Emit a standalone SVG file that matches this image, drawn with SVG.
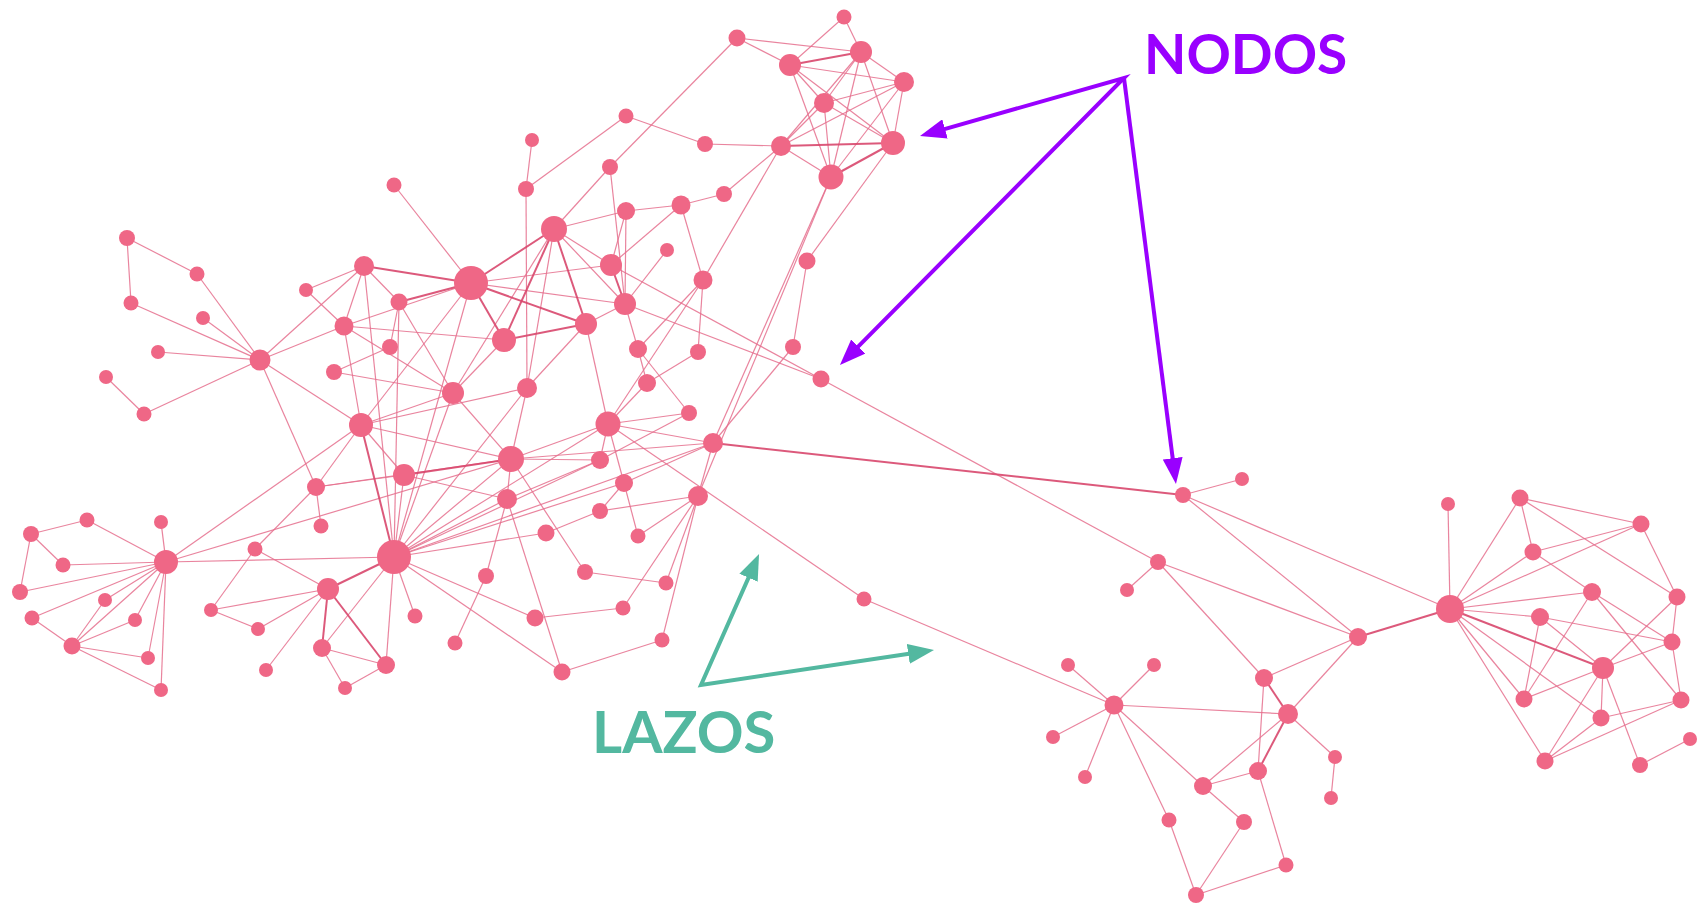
<svg xmlns="http://www.w3.org/2000/svg" width="1698" height="905" viewBox="0 0 1698 905">
<style>
.e{stroke:#e56f8d;stroke-width:1.2;stroke-opacity:0.85}
.et{stroke:#d8476d;stroke-width:2;stroke-opacity:0.9}
.nodes circle{fill:#ef6786}
.lbl{font-family:Lato,"Open Sans","Liberation Sans",sans-serif;font-weight:700}
.ap{fill:none;stroke:#9900ff;stroke-width:4;stroke-linejoin:miter}
.at{fill:none;stroke:#53b8a0;stroke-width:4;stroke-linejoin:miter}
</style>
<defs>
<marker id="mp" viewBox="0 0 26 20" refX="16" refY="10" markerWidth="26" markerHeight="20" markerUnits="userSpaceOnUse" orient="auto-start-reverse"><path d="M0,0 L26,10 L0,20 Z" fill="#9900ff"/></marker>
<marker id="mt" viewBox="0 0 26 20" refX="16" refY="10" markerWidth="26" markerHeight="20" markerUnits="userSpaceOnUse" orient="auto-start-reverse"><path d="M0,0 L26,10 L0,20 Z" fill="#53b8a0"/></marker>
</defs>
<rect width="1698" height="905" fill="#ffffff"/>
<g id="connectors">
<line class="e" x1="844" y1="17" x2="790" y2="65"/>
<line class="e" x1="844" y1="17" x2="861" y2="52"/>
<line class="e" x1="737" y1="38" x2="861" y2="52"/>
<line class="e" x1="737" y1="38" x2="790" y2="65"/>
<line class="e" x1="737" y1="38" x2="610" y2="167"/>
<line class="e" x1="861" y1="52" x2="904" y2="82"/>
<line class="e" x1="861" y1="52" x2="824" y2="103"/>
<line class="e" x1="861" y1="52" x2="781" y2="146"/>
<line class="e" x1="861" y1="52" x2="893" y2="143"/>
<line class="e" x1="861" y1="52" x2="831" y2="177"/>
<line class="e" x1="790" y1="65" x2="904" y2="82"/>
<line class="e" x1="790" y1="65" x2="824" y2="103"/>
<line class="e" x1="790" y1="65" x2="893" y2="143"/>
<line class="e" x1="790" y1="65" x2="831" y2="177"/>
<line class="e" x1="904" y1="82" x2="824" y2="103"/>
<line class="e" x1="904" y1="82" x2="781" y2="146"/>
<line class="e" x1="904" y1="82" x2="893" y2="143"/>
<line class="e" x1="904" y1="82" x2="831" y2="177"/>
<line class="e" x1="824" y1="103" x2="781" y2="146"/>
<line class="e" x1="824" y1="103" x2="893" y2="143"/>
<line class="e" x1="824" y1="103" x2="831" y2="177"/>
<line class="e" x1="705" y1="144" x2="781" y2="146"/>
<line class="e" x1="705" y1="144" x2="626" y2="116"/>
<line class="e" x1="781" y1="146" x2="831" y2="177"/>
<line class="e" x1="781" y1="146" x2="724" y2="194"/>
<line class="e" x1="781" y1="146" x2="703" y2="280"/>
<line class="e" x1="893" y1="143" x2="807" y2="261"/>
<line class="e" x1="831" y1="177" x2="713" y2="443"/>
<line class="e" x1="831" y1="177" x2="698" y2="496"/>
<line class="e" x1="807" y1="261" x2="793" y2="347"/>
<line class="e" x1="793" y1="347" x2="713" y2="443"/>
<line class="e" x1="626" y1="116" x2="526" y2="189"/>
<line class="e" x1="610" y1="167" x2="554" y2="229"/>
<line class="e" x1="610" y1="167" x2="625" y2="304"/>
<line class="e" x1="724" y1="194" x2="681" y2="205"/>
<line class="e" x1="626" y1="211" x2="681" y2="205"/>
<line class="e" x1="626" y1="211" x2="611" y2="265"/>
<line class="e" x1="626" y1="211" x2="625" y2="304"/>
<line class="e" x1="626" y1="211" x2="554" y2="229"/>
<line class="e" x1="681" y1="205" x2="703" y2="280"/>
<line class="e" x1="681" y1="205" x2="611" y2="265"/>
<line class="e" x1="667" y1="250" x2="625" y2="304"/>
<line class="e" x1="611" y1="265" x2="554" y2="229"/>
<line class="e" x1="611" y1="265" x2="471" y2="283"/>
<line class="e" x1="611" y1="265" x2="821" y2="379"/>
<line class="e" x1="703" y1="280" x2="698" y2="352"/>
<line class="e" x1="703" y1="280" x2="638" y2="349"/>
<line class="e" x1="703" y1="280" x2="608" y2="424"/>
<line class="e" x1="625" y1="304" x2="586" y2="324"/>
<line class="e" x1="625" y1="304" x2="638" y2="349"/>
<line class="e" x1="625" y1="304" x2="554" y2="229"/>
<line class="e" x1="625" y1="304" x2="821" y2="379"/>
<line class="e" x1="625" y1="304" x2="471" y2="283"/>
<line class="e" x1="586" y1="324" x2="608" y2="424"/>
<line class="e" x1="586" y1="324" x2="527" y2="388"/>
<line class="e" x1="638" y1="349" x2="647" y2="383"/>
<line class="e" x1="638" y1="349" x2="689" y2="413"/>
<line class="e" x1="698" y1="352" x2="647" y2="383"/>
<line class="e" x1="647" y1="383" x2="608" y2="424"/>
<line class="e" x1="689" y1="413" x2="608" y2="424"/>
<line class="e" x1="689" y1="413" x2="600" y2="460"/>
<line class="e" x1="821" y1="379" x2="1158" y2="562"/>
<line class="e" x1="532" y1="140" x2="526" y2="189"/>
<line class="e" x1="526" y1="189" x2="527" y2="388"/>
<line class="e" x1="394" y1="185" x2="471" y2="283"/>
<line class="e" x1="554" y1="229" x2="453" y2="393"/>
<line class="e" x1="554" y1="229" x2="527" y2="388"/>
<line class="e" x1="471" y1="283" x2="344" y2="326"/>
<line class="e" x1="471" y1="283" x2="361" y2="425"/>
<line class="e" x1="471" y1="283" x2="394" y2="557"/>
<line class="e" x1="127" y1="238" x2="197" y2="274"/>
<line class="e" x1="127" y1="238" x2="131" y2="303"/>
<line class="e" x1="197" y1="274" x2="260" y2="360"/>
<line class="e" x1="131" y1="303" x2="260" y2="360"/>
<line class="e" x1="203" y1="318" x2="260" y2="360"/>
<line class="e" x1="158" y1="352" x2="260" y2="360"/>
<line class="e" x1="106" y1="377" x2="144" y2="414"/>
<line class="e" x1="144" y1="414" x2="260" y2="360"/>
<line class="e" x1="260" y1="360" x2="364" y2="266"/>
<line class="e" x1="260" y1="360" x2="344" y2="326"/>
<line class="e" x1="260" y1="360" x2="361" y2="425"/>
<line class="e" x1="260" y1="360" x2="316" y2="487"/>
<line class="e" x1="364" y1="266" x2="306" y2="290"/>
<line class="e" x1="364" y1="266" x2="344" y2="326"/>
<line class="e" x1="364" y1="266" x2="399" y2="302"/>
<line class="e" x1="364" y1="266" x2="394" y2="557"/>
<line class="e" x1="306" y1="290" x2="344" y2="326"/>
<line class="e" x1="399" y1="302" x2="390" y2="347"/>
<line class="e" x1="399" y1="302" x2="453" y2="393"/>
<line class="e" x1="399" y1="302" x2="394" y2="557"/>
<line class="e" x1="344" y1="326" x2="453" y2="393"/>
<line class="e" x1="344" y1="326" x2="361" y2="425"/>
<line class="e" x1="344" y1="326" x2="504" y2="340"/>
<line class="e" x1="390" y1="347" x2="334" y2="372"/>
<line class="e" x1="334" y1="372" x2="453" y2="393"/>
<line class="e" x1="504" y1="340" x2="453" y2="393"/>
<line class="e" x1="453" y1="393" x2="511" y2="459"/>
<line class="e" x1="453" y1="393" x2="394" y2="557"/>
<line class="e" x1="527" y1="388" x2="511" y2="459"/>
<line class="e" x1="527" y1="388" x2="394" y2="557"/>
<line class="e" x1="361" y1="425" x2="511" y2="459"/>
<line class="e" x1="361" y1="425" x2="404" y2="475"/>
<line class="e" x1="361" y1="425" x2="316" y2="487"/>
<line class="e" x1="361" y1="425" x2="453" y2="393"/>
<line class="e" x1="361" y1="425" x2="527" y2="388"/>
<line class="e" x1="361" y1="425" x2="166" y2="562"/>
<line class="e" x1="511" y1="459" x2="507" y2="499"/>
<line class="e" x1="511" y1="459" x2="394" y2="557"/>
<line class="e" x1="511" y1="459" x2="608" y2="424"/>
<line class="e" x1="511" y1="459" x2="600" y2="460"/>
<line class="e" x1="511" y1="459" x2="316" y2="487"/>
<line class="e" x1="511" y1="459" x2="713" y2="443"/>
<line class="e" x1="404" y1="475" x2="316" y2="487"/>
<line class="e" x1="404" y1="475" x2="507" y2="499"/>
<line class="e" x1="404" y1="475" x2="394" y2="557"/>
<line class="e" x1="316" y1="487" x2="321" y2="526"/>
<line class="e" x1="316" y1="487" x2="255" y2="549"/>
<line class="e" x1="507" y1="499" x2="394" y2="557"/>
<line class="e" x1="507" y1="499" x2="486" y2="576"/>
<line class="e" x1="507" y1="499" x2="600" y2="460"/>
<line class="e" x1="507" y1="499" x2="562" y2="672"/>
<line class="e" x1="546" y1="533" x2="394" y2="557"/>
<line class="e" x1="546" y1="533" x2="600" y2="511"/>
<line class="e" x1="394" y1="557" x2="608" y2="424"/>
<line class="e" x1="394" y1="557" x2="600" y2="460"/>
<line class="e" x1="394" y1="557" x2="415" y2="616"/>
<line class="e" x1="394" y1="557" x2="535" y2="618"/>
<line class="e" x1="394" y1="557" x2="386" y2="665"/>
<line class="e" x1="394" y1="557" x2="562" y2="672"/>
<line class="e" x1="394" y1="557" x2="166" y2="562"/>
<line class="e" x1="394" y1="557" x2="322" y2="648"/>
<line class="e" x1="394" y1="557" x2="713" y2="443"/>
<line class="e" x1="394" y1="557" x2="624" y2="483"/>
<line class="e" x1="486" y1="576" x2="455" y2="643"/>
<line class="e" x1="328" y1="589" x2="255" y2="549"/>
<line class="e" x1="328" y1="589" x2="211" y2="610"/>
<line class="e" x1="328" y1="589" x2="258" y2="629"/>
<line class="e" x1="328" y1="589" x2="266" y2="670"/>
<line class="e" x1="322" y1="648" x2="386" y2="665"/>
<line class="e" x1="322" y1="648" x2="345" y2="688"/>
<line class="e" x1="386" y1="665" x2="345" y2="688"/>
<line class="e" x1="535" y1="618" x2="623" y2="608"/>
<line class="e" x1="562" y1="672" x2="662" y2="640"/>
<line class="e" x1="713" y1="443" x2="608" y2="424"/>
<line class="e" x1="713" y1="443" x2="698" y2="496"/>
<line class="e" x1="713" y1="443" x2="624" y2="483"/>
<line class="e" x1="624" y1="483" x2="608" y2="424"/>
<line class="e" x1="624" y1="483" x2="638" y2="536"/>
<line class="e" x1="624" y1="483" x2="600" y2="511"/>
<line class="e" x1="600" y1="460" x2="608" y2="424"/>
<line class="e" x1="698" y1="496" x2="600" y2="511"/>
<line class="e" x1="698" y1="496" x2="638" y2="536"/>
<line class="e" x1="698" y1="496" x2="666" y2="583"/>
<line class="e" x1="698" y1="496" x2="623" y2="608"/>
<line class="e" x1="698" y1="496" x2="662" y2="640"/>
<line class="e" x1="608" y1="424" x2="864" y2="599"/>
<line class="e" x1="585" y1="572" x2="666" y2="583"/>
<line class="e" x1="585" y1="572" x2="511" y2="459"/>
<line class="e" x1="166" y1="562" x2="87" y2="520"/>
<line class="e" x1="166" y1="562" x2="161" y2="522"/>
<line class="e" x1="166" y1="562" x2="63" y2="565"/>
<line class="e" x1="166" y1="562" x2="20" y2="592"/>
<line class="e" x1="166" y1="562" x2="32" y2="618"/>
<line class="e" x1="166" y1="562" x2="105" y2="600"/>
<line class="e" x1="166" y1="562" x2="135" y2="620"/>
<line class="e" x1="166" y1="562" x2="72" y2="646"/>
<line class="e" x1="166" y1="562" x2="148" y2="658"/>
<line class="e" x1="166" y1="562" x2="161" y2="690"/>
<line class="e" x1="166" y1="562" x2="511" y2="459"/>
<line class="e" x1="31" y1="534" x2="87" y2="520"/>
<line class="e" x1="31" y1="534" x2="63" y2="565"/>
<line class="e" x1="31" y1="534" x2="20" y2="592"/>
<line class="e" x1="32" y1="618" x2="72" y2="646"/>
<line class="e" x1="105" y1="600" x2="72" y2="646"/>
<line class="e" x1="135" y1="620" x2="72" y2="646"/>
<line class="e" x1="72" y1="646" x2="148" y2="658"/>
<line class="e" x1="72" y1="646" x2="161" y2="690"/>
<line class="e" x1="255" y1="549" x2="211" y2="610"/>
<line class="e" x1="211" y1="610" x2="258" y2="629"/>
<line class="e" x1="864" y1="599" x2="1114" y2="705"/>
<line class="e" x1="1114" y1="705" x2="1068" y2="665"/>
<line class="e" x1="1114" y1="705" x2="1154" y2="665"/>
<line class="e" x1="1114" y1="705" x2="1053" y2="737"/>
<line class="e" x1="1114" y1="705" x2="1085" y2="777"/>
<line class="e" x1="1114" y1="705" x2="1288" y2="714"/>
<line class="e" x1="1114" y1="705" x2="1203" y2="786"/>
<line class="e" x1="1114" y1="705" x2="1169" y2="820"/>
<line class="e" x1="1127" y1="590" x2="1158" y2="562"/>
<line class="e" x1="1183" y1="495" x2="1242" y2="479"/>
<line class="e" x1="1183" y1="495" x2="1358" y2="637"/>
<line class="e" x1="1183" y1="495" x2="1450" y2="609"/>
<line class="e" x1="1158" y1="562" x2="1358" y2="637"/>
<line class="e" x1="1158" y1="562" x2="1264" y2="678"/>
<line class="e" x1="1358" y1="637" x2="1264" y2="678"/>
<line class="e" x1="1358" y1="637" x2="1288" y2="714"/>
<line class="e" x1="1264" y1="678" x2="1258" y2="771"/>
<line class="e" x1="1288" y1="714" x2="1203" y2="786"/>
<line class="e" x1="1288" y1="714" x2="1335" y2="757"/>
<line class="e" x1="1335" y1="757" x2="1331" y2="798"/>
<line class="e" x1="1258" y1="771" x2="1203" y2="786"/>
<line class="e" x1="1258" y1="771" x2="1286" y2="865"/>
<line class="e" x1="1203" y1="786" x2="1244" y2="822"/>
<line class="e" x1="1169" y1="820" x2="1196" y2="895"/>
<line class="e" x1="1244" y1="822" x2="1196" y2="895"/>
<line class="e" x1="1286" y1="865" x2="1196" y2="895"/>
<line class="e" x1="1450" y1="609" x2="1448" y2="504"/>
<line class="e" x1="1450" y1="609" x2="1520" y2="498"/>
<line class="e" x1="1450" y1="609" x2="1533" y2="552"/>
<line class="e" x1="1450" y1="609" x2="1641" y2="524"/>
<line class="e" x1="1450" y1="609" x2="1592" y2="592"/>
<line class="e" x1="1450" y1="609" x2="1540" y2="617"/>
<line class="e" x1="1450" y1="609" x2="1524" y2="699"/>
<line class="e" x1="1450" y1="609" x2="1601" y2="718"/>
<line class="e" x1="1450" y1="609" x2="1545" y2="761"/>
<line class="e" x1="1520" y1="498" x2="1533" y2="552"/>
<line class="e" x1="1520" y1="498" x2="1641" y2="524"/>
<line class="e" x1="1520" y1="498" x2="1677" y2="597"/>
<line class="e" x1="1641" y1="524" x2="1533" y2="552"/>
<line class="e" x1="1641" y1="524" x2="1677" y2="597"/>
<line class="e" x1="1533" y1="552" x2="1592" y2="592"/>
<line class="e" x1="1592" y1="592" x2="1672" y2="642"/>
<line class="e" x1="1592" y1="592" x2="1681" y2="700"/>
<line class="e" x1="1592" y1="592" x2="1524" y2="699"/>
<line class="e" x1="1677" y1="597" x2="1672" y2="642"/>
<line class="e" x1="1677" y1="597" x2="1603" y2="668"/>
<line class="e" x1="1540" y1="617" x2="1672" y2="642"/>
<line class="e" x1="1540" y1="617" x2="1603" y2="668"/>
<line class="e" x1="1540" y1="617" x2="1524" y2="699"/>
<line class="e" x1="1672" y1="642" x2="1603" y2="668"/>
<line class="e" x1="1672" y1="642" x2="1681" y2="700"/>
<line class="e" x1="1603" y1="668" x2="1524" y2="699"/>
<line class="e" x1="1603" y1="668" x2="1601" y2="718"/>
<line class="e" x1="1603" y1="668" x2="1545" y2="761"/>
<line class="e" x1="1603" y1="668" x2="1640" y2="765"/>
<line class="e" x1="1681" y1="700" x2="1601" y2="718"/>
<line class="e" x1="1681" y1="700" x2="1545" y2="761"/>
<line class="e" x1="1601" y1="718" x2="1545" y2="761"/>
<line class="e" x1="1640" y1="765" x2="1690" y2="739"/>
<line class="et" x1="861" y1="52" x2="790" y2="65"/>
<line class="et" x1="781" y1="146" x2="893" y2="143"/>
<line class="et" x1="893" y1="143" x2="831" y2="177"/>
<line class="et" x1="554" y1="229" x2="471" y2="283"/>
<line class="et" x1="554" y1="229" x2="504" y2="340"/>
<line class="et" x1="554" y1="229" x2="586" y2="324"/>
<line class="et" x1="471" y1="283" x2="364" y2="266"/>
<line class="et" x1="471" y1="283" x2="399" y2="302"/>
<line class="et" x1="471" y1="283" x2="504" y2="340"/>
<line class="et" x1="471" y1="283" x2="586" y2="324"/>
<line class="et" x1="504" y1="340" x2="586" y2="324"/>
<line class="et" x1="611" y1="265" x2="625" y2="304"/>
<line class="et" x1="361" y1="425" x2="394" y2="557"/>
<line class="et" x1="511" y1="459" x2="404" y2="475"/>
<line class="et" x1="328" y1="589" x2="394" y2="557"/>
<line class="et" x1="328" y1="589" x2="322" y2="648"/>
<line class="et" x1="328" y1="589" x2="386" y2="665"/>
<line class="et" x1="713" y1="443" x2="1183" y2="495"/>
<line class="et" x1="1450" y1="609" x2="1358" y2="637"/>
<line class="et" x1="1450" y1="609" x2="1603" y2="668"/>
<line class="et" x1="1264" y1="678" x2="1288" y2="714"/>
<line class="et" x1="1288" y1="714" x2="1258" y2="771"/>
</g>
<g class="nodes">
<g id="A1"><circle cx="532" cy="140" r="7"/></g>
<g id="A2"><circle cx="394" cy="185" r="7.5"/></g>
<g id="A3"><circle cx="526" cy="189" r="8"/></g>
<g id="A4"><circle cx="554" cy="229" r="13"/></g>
<g id="A5"><circle cx="471" cy="283" r="17"/></g>
<g id="A6"><circle cx="127" cy="238" r="8"/></g>
<g id="A7"><circle cx="197" cy="274" r="7.5"/></g>
<g id="A8"><circle cx="364" cy="266" r="10"/></g>
<g id="A9"><circle cx="306" cy="290" r="7"/></g>
<g id="A10"><circle cx="399" cy="302" r="8.5"/></g>
<g id="A11"><circle cx="131" cy="303" r="7.5"/></g>
<g id="A12"><circle cx="203" cy="318" r="7"/></g>
<g id="A13"><circle cx="344" cy="326" r="9.5"/></g>
<g id="A14"><circle cx="504" cy="340" r="12"/></g>
<g id="A15"><circle cx="390" cy="347" r="8"/></g>
<g id="A16"><circle cx="158" cy="352" r="7"/></g>
<g id="A17"><circle cx="260" cy="360" r="10.5"/></g>
<g id="A18"><circle cx="334" cy="372" r="8"/></g>
<g id="A19"><circle cx="106" cy="377" r="7"/></g>
<g id="A20"><circle cx="453" cy="393" r="11"/></g>
<g id="A21"><circle cx="527" cy="388" r="10"/></g>
<g id="A22"><circle cx="144" cy="414" r="7.5"/></g>
<g id="A23"><circle cx="361" cy="425" r="12"/></g>
<g id="B1"><circle cx="586" cy="324" r="11"/></g>
<g id="B2"><circle cx="610" cy="167" r="8"/></g>
<g id="B3"><circle cx="724" cy="194" r="8"/></g>
<g id="B4"><circle cx="626" cy="211" r="9"/></g>
<g id="B5"><circle cx="681" cy="205" r="9.5"/></g>
<g id="B6"><circle cx="667" cy="250" r="7"/></g>
<g id="B7"><circle cx="611" cy="265" r="11"/></g>
<g id="B8"><circle cx="807" cy="261" r="8.5"/></g>
<g id="B9"><circle cx="703" cy="280" r="9.5"/></g>
<g id="B10"><circle cx="625" cy="304" r="11"/></g>
<g id="B11"><circle cx="638" cy="349" r="9"/></g>
<g id="B12"><circle cx="698" cy="352" r="8"/></g>
<g id="B13"><circle cx="793" cy="347" r="8"/></g>
<g id="B14"><circle cx="647" cy="383" r="9"/></g>
<g id="B15"><circle cx="821" cy="379" r="8.5"/></g>
<g id="B16"><circle cx="689" cy="413" r="8"/></g>
<g id="B17"><circle cx="608" cy="424" r="12.5"/></g>
<g id="C1"><circle cx="511" cy="459" r="13"/></g>
<g id="C2"><circle cx="404" cy="475" r="11"/></g>
<g id="C3"><circle cx="316" cy="487" r="9"/></g>
<g id="C4"><circle cx="507" cy="499" r="10"/></g>
<g id="C5"><circle cx="321" cy="526" r="7.5"/></g>
<g id="C6"><circle cx="546" cy="533" r="8.5"/></g>
<g id="C7"><circle cx="394" cy="557" r="17"/></g>
<g id="C8"><circle cx="486" cy="576" r="8"/></g>
<g id="C9"><circle cx="328" cy="589" r="11"/></g>
<g id="C10"><circle cx="415" cy="616" r="7.5"/></g>
<g id="C11"><circle cx="535" cy="618" r="8.5"/></g>
<g id="C12"><circle cx="455" cy="643" r="7.5"/></g>
<g id="C13"><circle cx="322" cy="648" r="9"/></g>
<g id="C14"><circle cx="386" cy="665" r="9"/></g>
<g id="C15"><circle cx="562" cy="672" r="8.5"/></g>
<g id="D1"><circle cx="713" cy="443" r="10"/></g>
<g id="D2"><circle cx="600" cy="460" r="9"/></g>
<g id="D3"><circle cx="624" cy="483" r="9"/></g>
<g id="D4"><circle cx="698" cy="496" r="10"/></g>
<g id="D5"><circle cx="600" cy="511" r="8"/></g>
<g id="D6"><circle cx="638" cy="536" r="7.5"/></g>
<g id="D7"><circle cx="585" cy="572" r="8"/></g>
<g id="D8"><circle cx="666" cy="583" r="7.5"/></g>
<g id="D9"><circle cx="623" cy="608" r="7.5"/></g>
<g id="D10"><circle cx="662" cy="640" r="7.5"/></g>
<g id="E1"><circle cx="844" cy="17" r="7.5"/></g>
<g id="E2"><circle cx="737" cy="38" r="8.5"/></g>
<g id="E3"><circle cx="861" cy="52" r="11"/></g>
<g id="E4"><circle cx="790" cy="65" r="11"/></g>
<g id="E5"><circle cx="904" cy="82" r="10"/></g>
<g id="E6"><circle cx="824" cy="103" r="10"/></g>
<g id="E7"><circle cx="705" cy="144" r="8"/></g>
<g id="E8"><circle cx="781" cy="146" r="10"/></g>
<g id="E9"><circle cx="893" cy="143" r="12"/></g>
<g id="E10"><circle cx="626" cy="116" r="7.5"/></g>
<g id="EC"><circle cx="831" cy="177" r="12.5"/></g>
<g id="F1"><circle cx="87" cy="520" r="7.5"/></g>
<g id="F2"><circle cx="161" cy="522" r="7"/></g>
<g id="F3"><circle cx="31" cy="534" r="8"/></g>
<g id="F4"><circle cx="255" cy="549" r="7.5"/></g>
<g id="F5"><circle cx="166" cy="562" r="12"/></g>
<g id="F6"><circle cx="63" cy="565" r="7.5"/></g>
<g id="F7"><circle cx="20" cy="592" r="8"/></g>
<g id="F8"><circle cx="105" cy="600" r="7"/></g>
<g id="F9"><circle cx="211" cy="610" r="7"/></g>
<g id="F10"><circle cx="32" cy="618" r="7.5"/></g>
<g id="F11"><circle cx="135" cy="620" r="7"/></g>
<g id="F12"><circle cx="258" cy="629" r="7"/></g>
<g id="F13"><circle cx="72" cy="646" r="8.5"/></g>
<g id="F14"><circle cx="148" cy="658" r="7"/></g>
<g id="F15"><circle cx="266" cy="670" r="7"/></g>
<g id="F16"><circle cx="345" cy="688" r="7"/></g>
<g id="F17"><circle cx="161" cy="690" r="7"/></g>
<g id="G1"><circle cx="864" cy="599" r="7.5"/></g>
<g id="G2"><circle cx="1127" cy="590" r="7"/></g>
<g id="G3"><circle cx="1068" cy="665" r="7"/></g>
<g id="G3b"><circle cx="1154" cy="665" r="7"/></g>
<g id="G4"><circle cx="1114" cy="705" r="9.5"/></g>
<g id="G5"><circle cx="1053" cy="737" r="7"/></g>
<g id="G6"><circle cx="1085" cy="777" r="7"/></g>
<g id="H1"><circle cx="1183" cy="495" r="8"/></g>
<g id="H2"><circle cx="1242" cy="479" r="7"/></g>
<g id="H3"><circle cx="1158" cy="562" r="8"/></g>
<g id="H4"><circle cx="1448" cy="504" r="7"/></g>
<g id="H5"><circle cx="1520" cy="498" r="8.5"/></g>
<g id="H6"><circle cx="1641" cy="524" r="8.5"/></g>
<g id="H7"><circle cx="1533" cy="552" r="8.5"/></g>
<g id="H8"><circle cx="1450" cy="609" r="14"/></g>
<g id="H9"><circle cx="1592" cy="592" r="9"/></g>
<g id="H10"><circle cx="1677" cy="597" r="8.5"/></g>
<g id="H11"><circle cx="1358" cy="637" r="9"/></g>
<g id="H12"><circle cx="1540" cy="617" r="9"/></g>
<g id="H13"><circle cx="1672" cy="642" r="8.5"/></g>
<g id="H14"><circle cx="1603" cy="668" r="11"/></g>
<g id="H15"><circle cx="1264" cy="678" r="9"/></g>
<g id="H16"><circle cx="1524" cy="699" r="8.5"/></g>
<g id="H17"><circle cx="1681" cy="700" r="8.5"/></g>
<g id="H18"><circle cx="1288" cy="714" r="10"/></g>
<g id="H19"><circle cx="1601" cy="718" r="8.5"/></g>
<g id="H20"><circle cx="1335" cy="757" r="7"/></g>
<g id="H21"><circle cx="1690" cy="739" r="7"/></g>
<g id="H22"><circle cx="1258" cy="771" r="9"/></g>
<g id="H23"><circle cx="1203" cy="786" r="9"/></g>
<g id="H24"><circle cx="1545" cy="761" r="8.5"/></g>
<g id="H25"><circle cx="1640" cy="765" r="8"/></g>
<g id="H26"><circle cx="1331" cy="798" r="7"/></g>
<g id="H27"><circle cx="1169" cy="820" r="7.5"/></g>
<g id="H28"><circle cx="1244" cy="822" r="8"/></g>
<g id="H29"><circle cx="1286" cy="865" r="7.5"/></g>
<g id="H30"><circle cx="1196" cy="895" r="8"/></g>
</g>
<g id="label-nodos">
<text class="lbl" x="1144" y="74" font-size="55" fill="#9900ff">NODOS</text>
<path class="ap" d="M929.6,133.3 L1124,78 L847,357.9" marker-start="url(#mp)" marker-end="url(#mp)"/>
<path class="ap" d="M1124,78 L1174.7,474.1" marker-end="url(#mp)"/>
</g>
<g id="label-lazos">
<text class="lbl" x="592" y="753" font-size="58" fill="#53b8a0">LAZOS</text>
<path class="at" d="M755,563.1 L701,685 L924.1,651.5" marker-start="url(#mt)" marker-end="url(#mt)"/>
</g>
</svg>
